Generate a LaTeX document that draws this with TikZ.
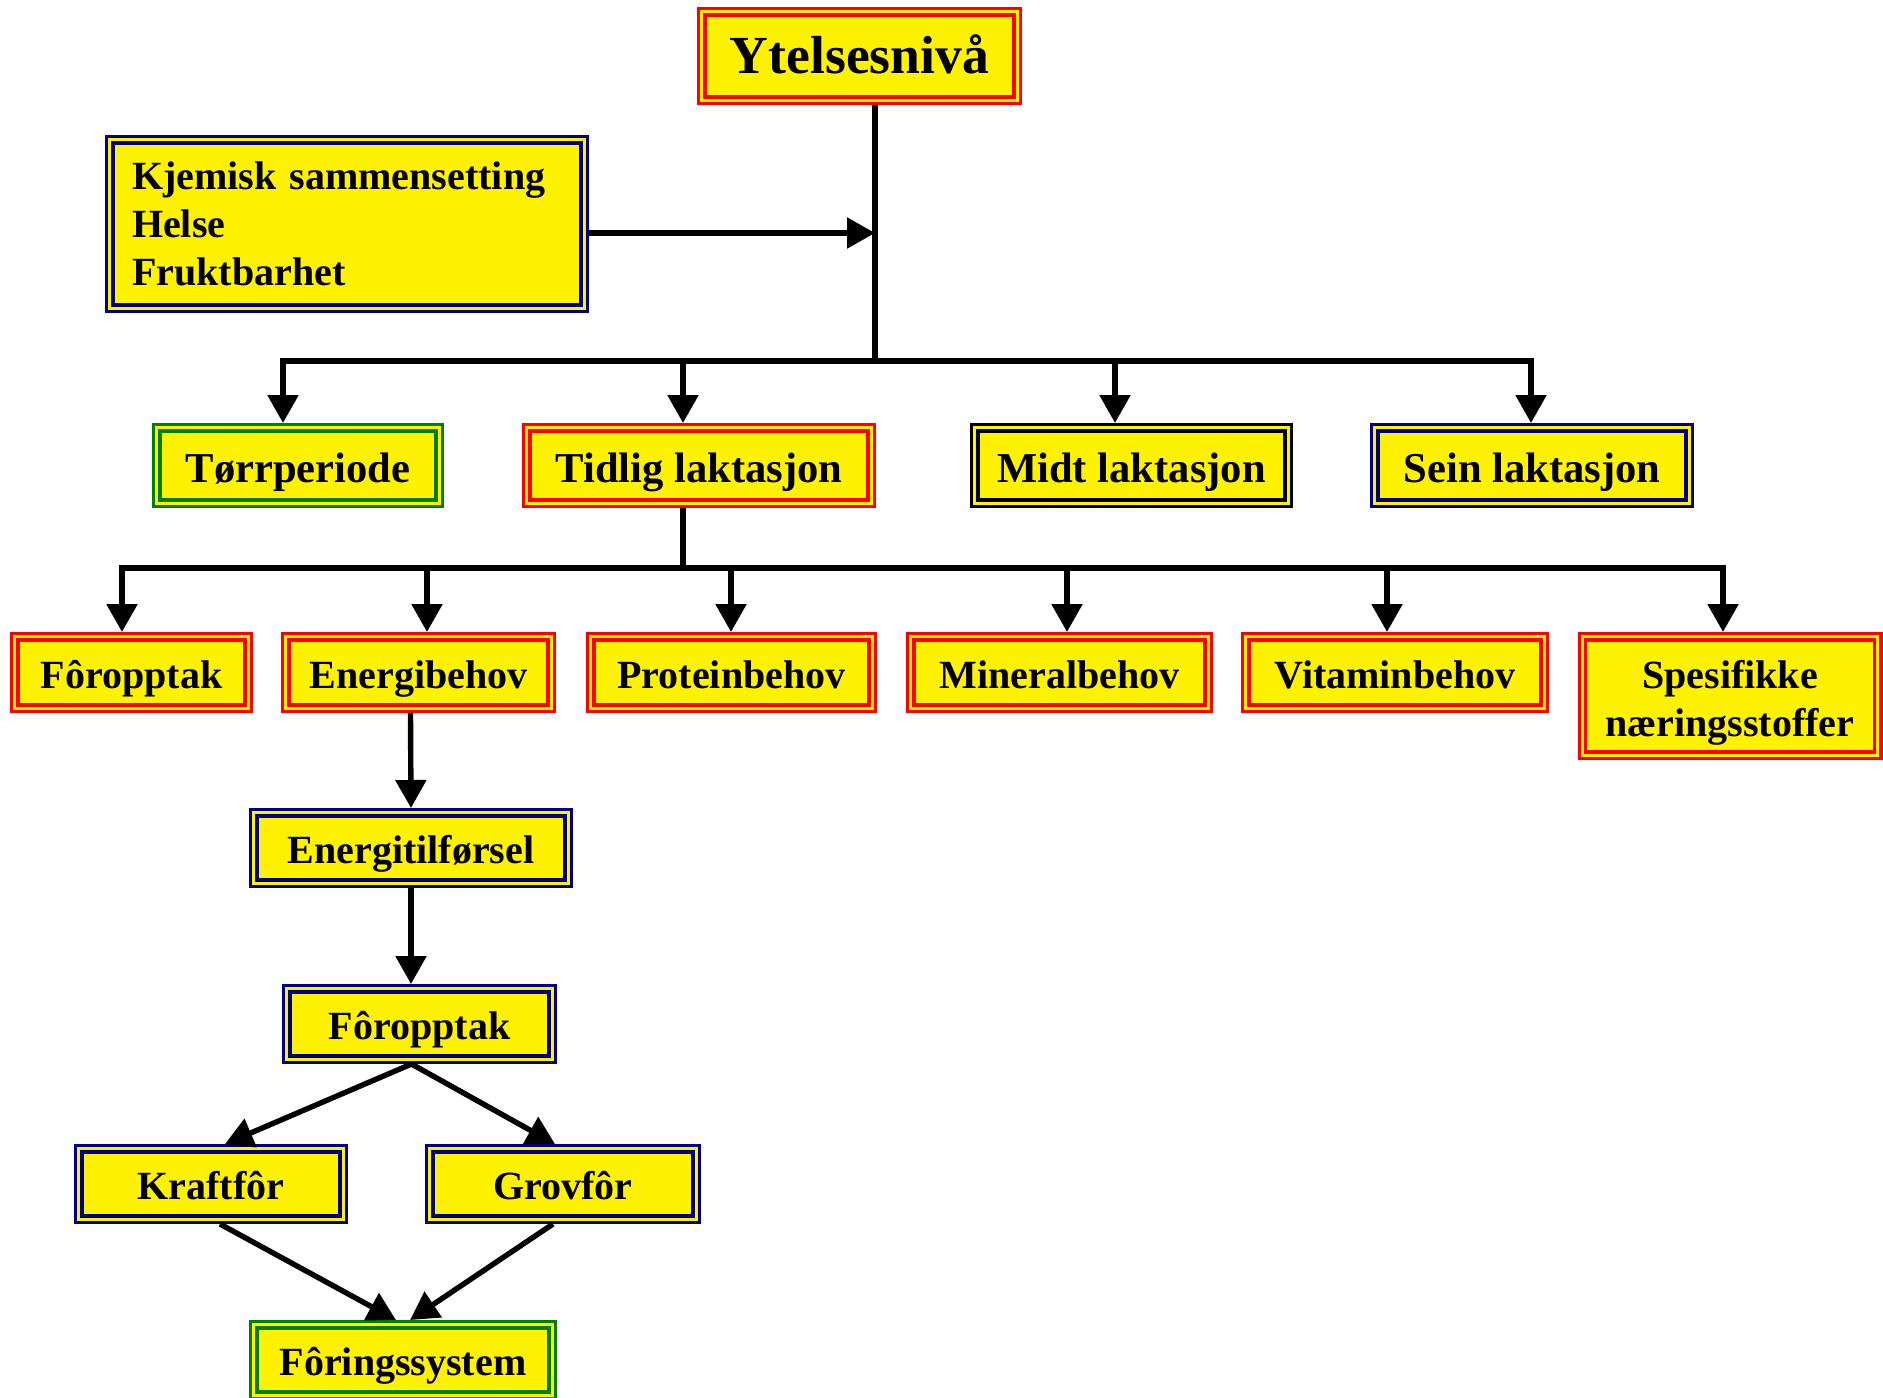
\documentclass[tikz,border=0pt]{standalone}
\usepackage{fontspec}
\setmainfont{Liberation Serif}
\usepackage{tikz}
\usetikzlibrary{calc, arrows.meta}

\definecolor{boxnavy}{RGB}{0,0,128}
\definecolor{boxgreen}{RGB}{0,128,0}

\begin{document}
\begin{tikzpicture}[x=0.5pt, y=-0.5pt,
    box/.style={draw=#1, double=yellow, line width=1.6pt, double distance=1.6pt,
      fill=yellow, inner sep=0pt, outer sep=2.4pt, align=center,
      font=\fontsize{20}{24}\selectfont\bfseries, text height=19.5pt, text depth=4pt},
    redbox/.style={box=red},
    navybox/.style={box=boxnavy},
    greenbox/.style={box=boxgreen},
    blackbox/.style={box=black},
    periodfont/.style={font=\fontsize{21.3}{25}\selectfont\bfseries,
      text height=20.5pt, text depth=4pt},
    conn/.style={line width=2.7pt},
    arr/.style={conn, -{Triangle[width=15pt, length=14pt]}}]
  \useasboundingbox (0,0) rectangle (1883,1397);

  % top level
  \node[redbox, minimum width=157.7pt, minimum height=44.2pt,
    font=\fontsize{26.8}{30}\selectfont\bfseries, text height=24.5pt, text depth=7.5pt]
    (top) at (859.5,56) {Ytelsesnivå};
  \node[navybox, minimum width=237.2pt, minimum height=84.2pt, text width=215pt,
    align=left, text height={}, text depth={}] (kjem) at (347,224)
    {Kjemisk sammensetting\\Helse\\Fruktbarhet};

  % periods
  \node[greenbox, periodfont, minimum width=141.2pt, minimum height=37.7pt] (tp) at (298,465.5) {Tørrperiode};
  \node[redbox, periodfont, minimum width=172.2pt, minimum height=37.7pt] (tl) at (699,465.5) {Tidlig laktasjon};
  \node[blackbox, periodfont, minimum width=156.7pt, minimum height=37.7pt] (ml) at (1131.5,465.5) {Midt laktasjon};
  \node[navybox, periodfont, minimum width=157.2pt, minimum height=37.7pt] (sl) at (1532,465.5) {Sein laktasjon};

  % needs
  \node[redbox, minimum width=116.7pt, minimum height=35.7pt] (fo1) at (131.5,672.5) {Fôropptak};
  \node[redbox, minimum width=132.7pt, minimum height=35.7pt] (eb) at (418.5,672.5) {Energibehov};
  \node[redbox, minimum width=140.7pt, minimum height=35.7pt] (pb) at (731.5,672.5) {Proteinbehov};
  \node[redbox, minimum width=148.7pt, minimum height=35.7pt] (mb) at (1059.5,672.5) {Mineralbehov};
  \node[redbox, minimum width=149.2pt, minimum height=35.7pt] (vb) at (1395,672.5) {Vitaminbehov};
  \node[redbox, minimum width=147.7pt, minimum height=59.2pt, text height=44pt,
    text depth=4pt] (sn) at (1730,696) {Spesifikke\\næringsstoffer};

  % energy chain
  \node[navybox, minimum width=157.2pt, minimum height=35.2pt] (et) at (411,848) {Energitilførsel};
  \node[navybox, minimum width=132.7pt, minimum height=35.2pt] (fo2) at (419.5,1024) {Fôropptak};
  \node[navybox, minimum width=132.2pt, minimum height=35.2pt] (kf) at (211,1184) {Kraftfôr};
  \node[navybox, minimum width=133.2pt, minimum height=35.2pt] (gf) at (563,1184) {Grovfôr};
  \node[greenbox, minimum width=149.2pt, minimum height=35.2pt] (fs) at (403,1360) {Fôringssystem};

  % connectors
  \coordinate (b1) at (875,361);
  \coordinate (b2) at (683,568);
  \draw[conn] (b1 |- top.south) -- (b1);
  \draw[arr] ($(kjem.east)+(0,9)$) -- (b1 |- {$(kjem.east)+(0,9)$});
  \draw[arr] (b1) -| ($(tp.north)+(-15,0)$);
  \draw[arr] (b1) -| ($(sl.north)+(-1,0)$);
  \draw[arr] (b1 -| {$(tl.north)+(-16,0)$}) -- ($(tl.north)+(-16,0)$);
  \draw[arr] (b1 -| {$(ml.north)+(-16.5,0)$}) -- ($(ml.north)+(-16.5,0)$);

  \draw[conn] (b2 |- tl.south) -- (b2);
  \draw[arr] (b2) -| ($(fo1.north)+(-9.5,0)$);
  \draw[arr] (b2) -| ($(sn.north)+(-7,0)$);
  \draw[arr] (b2 -| {$(eb.north)+(8.5,0)$}) -- ($(eb.north)+(8.5,0)$);
  \draw[arr] (b2 -| {$(pb.north)+(-0.5,0)$}) -- ($(pb.north)+(-0.5,0)$);
  \draw[arr] (b2 -| {$(mb.north)+(7.5,0)$}) -- ($(mb.north)+(7.5,0)$);
  \draw[arr] (b2 -| {$(vb.north)+(-8,0)$}) -- ($(vb.north)+(-8,0)$);

  \draw[arr] ($(eb.south)+(-8,0)$) -- (et.north);
  \draw[arr] (et.south) -- (et.south |- fo2.north);
  \draw[arr] ($(fo2.south)+(-8,0)$) -- ($(kf.north)+(14,0)$);
  \draw[arr] ($(fo2.south)+(-8,0)$) -- ($(gf.north)+(-8,0)$);
  \draw[arr] ($(kf.south)+(9,0)$) -- ($(fs.north)+(-7,0)$);
  \draw[arr] ($(gf.south)+(-10,0)$) -- ($(fs.north)+(7,0)$);
\end{tikzpicture}
\end{document}
